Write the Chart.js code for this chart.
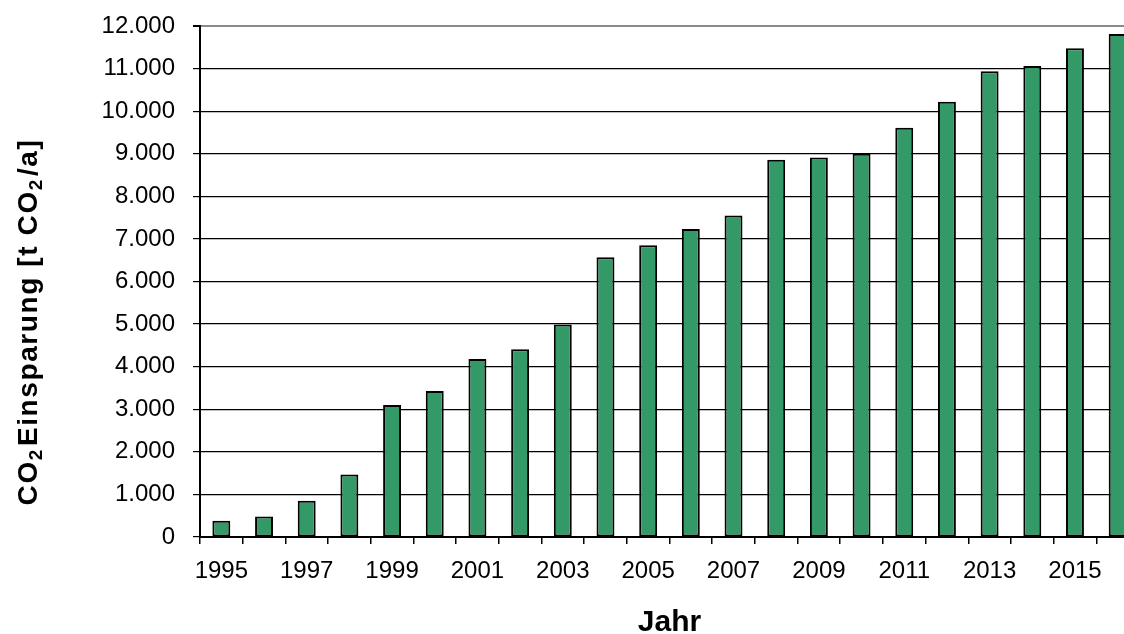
<!DOCTYPE html>
<html>
<head>
<meta charset="utf-8">
<script src="https://cdn.jsdelivr.net/npm/chart.js@4.4.1/dist/chart.umd.min.js"></script>
<style>
  html, body { margin: 0; padding: 0; overflow: hidden; background: #fff; }
  #wrap { position: relative; width: 1140px; height: 650px; }
</style>
</head>
<body>
<div id="wrap"><canvas id="c"></canvas></div>
<script>
// ---- data ----
const years = ['1995','1996','1997','1998','1999','2000','2001','2002','2003','2004','2005',
               '2006','2007','2008','2009','2010','2011','2012','2013','2014','2015','2016'];
const savings = [380, 480, 850, 1470, 3100, 3430, 4180, 4410, 4990, 6570, 6850,
                 7230, 7550, 8860, 8910, 9000, 9610, 10220, 10940, 11060, 11480, 11810];
const shownYearLabels = ['1995','1997','1999','2001','2003','2005','2007','2009','2011','2013','2015'];
const yTickValues = [0,1000,2000,3000,4000,5000,6000,7000,8000,9000,10000,11000,12000];
const xTitle = 'Jahr';
const yTitleParts = [['CO', false], ['2', true], ['Einsparung [t CO', false], ['2', true], ['/a]', false]];

const FONT = "'Liberation Sans', Arial, Helvetica, sans-serif";

function fmtDE(v) {
  return String(v).replace(/\B(?=(\d{3})+(?!\d))/g, '.');
}

const yTitlePlugin = {
  id: 'yTitle',
  afterDraw(chart) {
    const ctx = chart.ctx;
    const mainFont = 'bold 28px ' + FONT;
    const subFont = 'bold 19px ' + FONT;
    const spacing = 1.6;
    ctx.save();
    ctx.fillStyle = '#000';
    ctx.textBaseline = 'alphabetic';
    ctx.textAlign = 'left';
    try { ctx.letterSpacing = spacing + 'px'; } catch (e) {}
    let total = 0;
    const widths = yTitleParts.map(([t, sub]) => {
      ctx.font = sub ? subFont : mainFont;
      const w = ctx.measureText(t).width;
      total += w;
      return w;
    });
    const cx = 27, cy = 324;
    ctx.translate(cx, cy);
    ctx.rotate(-Math.PI / 2);
    let x = -total / 2;
    const baseline = 10;
    yTitleParts.forEach(([t, sub], i) => {
      ctx.font = sub ? subFont : mainFont;
      ctx.fillText(t, x, sub ? baseline + 5 : baseline);
      x += widths[i] + (sub ? 2 : 0);
    });
    ctx.restore();
  }
};

new Chart(document.getElementById('c'), {
  type: 'bar',
  data: {
    labels: years,
    datasets: [{
      data: savings,
      backgroundColor: '#339966',
      borderColor: '#000000',
      borderWidth: 2,
      borderSkipped: false,
      barPercentage: 0.42,
      categoryPercentage: 1.0
    }]
  },
  options: {
    responsive: true,
    maintainAspectRatio: false,
    animation: false,
    devicePixelRatio: 1,
    layout: { padding: { top: 26, right: 1, left: 0, bottom: 0 } },
    plugins: {
      legend: { display: false },
      tooltip: { enabled: false },
      title: { display: false }
    },
    scales: {
      x: {
        offset: true,
        afterFit(scale) { scale.height = 113; scale.paddingLeft = 0; scale.paddingRight = 0; },
        grid: {
          display: true,
          offset: true,
          drawOnChartArea: false,
          drawTicks: true,
          tickLength: 7,
          color: '#000',
          tickColor: '#000',
          lineWidth: 1.5
        },
        border: { display: true, color: '#000', width: 2 },
        ticks: {
          autoSkip: false,
          maxRotation: 0,
          minRotation: 0,
          padding: 13,
          color: '#000',
          font: { family: FONT, size: 24 },
          callback(value, index) {
            const l = years[index];
            return shownYearLabels.includes(l) ? l : '';
          }
        },
        title: {
          display: true,
          text: xTitle,
          color: '#000',
          font: { family: FONT, size: 30, weight: 'bold', lineHeight: 1.2 },
          padding: { top: 0, bottom: 9 }
        }
      },
      y: {
        min: 0,
        max: 12000,
        afterFit(scale) { scale.width = 200; scale.paddingTop = 0; scale.paddingBottom = 0; },
        afterBuildTicks(scale) { scale.ticks = yTickValues.map(v => ({ value: v })); },
        grid: {
          color(ctx) { return ctx.tick && ctx.tick.value === 12000 ? '#8a8a8a' : '#000'; },
          lineWidth(ctx) { return ctx.tick && ctx.tick.value === 12000 ? 2 : 1.2; },
          tickColor: '#000',
          tickLength: 7,
          drawTicks: true
        },
        border: { display: true, color: '#000', width: 2 },
        ticks: {
          padding: 18,
          color: '#000',
          font: { family: FONT, size: 24 },
          callback(value) { return fmtDE(value); }
        }
      }
    }
  },
  plugins: [yTitlePlugin]
});
</script>
</body>
</html>
